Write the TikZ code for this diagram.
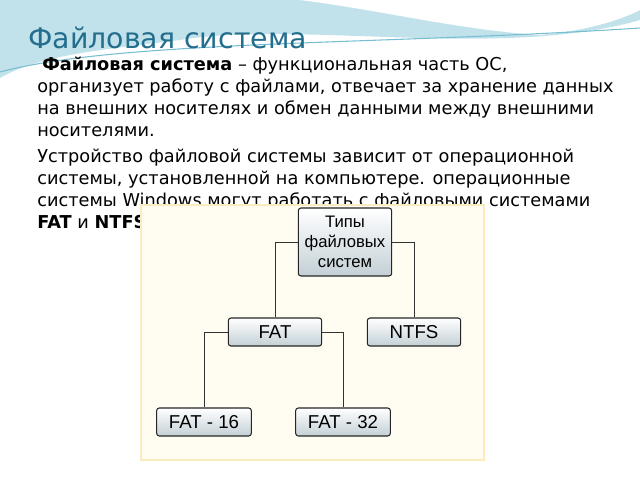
\documentclass[tikz,border=0pt]{standalone}
\usepackage{fontspec}
\setmainfont{DejaVu Sans}
\setsansfont{Liberation Sans}
\usetikzlibrary{positioning}
\definecolor{titleblue}{RGB}{35,110,140}
\definecolor{wave}{RGB}{120,190,210}
\definecolor{panel}{RGB}{255,252,242}
\definecolor{panelrim}{RGB}{250,236,190}
\definecolor{boxgrey}{RGB}{195,208,214}

\begin{document}
\begin{tikzpicture}[x=0.75pt, y=-0.75pt,
    every node/.style={inner sep=0pt},
    line/.style={anchor=base west, font=\fontsize{13.3}{15}\selectfont},
    fsbox/.style={
        rectangle,
        rounded corners=2pt,
        draw=black!85,
        thick,
        top color=white,
        bottom color=boxgrey,
        font=\sffamily\fontsize{14}{15.5}\selectfont,
        minimum height=21pt
    }
]

    \useasboundingbox (0,0) rectangle (640,480);

    % waves at the top
    \fill[wave!45] (0,0) -- (640,0) -- (640,20) .. controls (500,60) and (300,20) .. (180,40) .. controls (100,50) and (40,55) .. (0,78) -- cycle;
    \fill[white] (300,0) .. controls (380,10) and (460,30) .. (540,35) .. controls (590,30) and (620,20) .. (640,10) -- (640,0) -- cycle;
    \draw[wave, thick] (0,72) .. controls (120,40) and (380,45) .. (640,28);

    \node (title) [anchor=base west, text=titleblue, font=\fontsize{21.3}{25}\selectfont] at (28,48) {Файловая система};

    \node (l1) [line] at (42,70) {\textbf{Файловая система} – функциональная часть ОС,};
    \node (l2) [line] at (37,92) {организует работу с файлами, отвечает за хранение данных};
    \node (l3) [line] at (37,114) {на внешних носителях и обмен данными между внешними};
    \node (l4) [line] at (37,136) {носителями.};
    \node (l5) [line] at (37,162) {Устройство файловой системы зависит от операционной};
    \node (l6) [line] at (37,184) {системы, установленной на компьютере. операционные};
    \node (l7) [line] at (37,206) {системы Windows могут работать с файловыми системами};
    \node (l8) [line] at (37,228) {\textbf{FAT} и \textbf{NTFS}};

    % picture panel
    \fill[panel, draw=panelrim, line width=1.5pt] (141,205) rectangle (484,460);

    \node (types) [fsbox, font=\sffamily\fontsize{12.5}{15}\selectfont, minimum width=70pt, minimum height=51pt, align=center] at (345,242)
    {Типы\\файловых\\систем};

    \node (fat) [fsbox, minimum width=70pt] at (275,332) {FAT};
    \node (ntfs) [fsbox, minimum width=70pt] at (414,332) {NTFS};
    \node (fat16) [fsbox, minimum width=71pt] at (204,422) {FAT - 16};
    \node (fat32) [fsbox, minimum width=71pt] at (343,422) {FAT - 32};

    \draw[black!80] (types.west) -| (fat.north);
    \draw[black!80] (types.east) -| (ntfs.north);
    \draw[black!80] (fat.west) -| (fat16.north);
    \draw[black!80] (fat.east) -| (fat32.north);

\end{tikzpicture}
\end{document}
